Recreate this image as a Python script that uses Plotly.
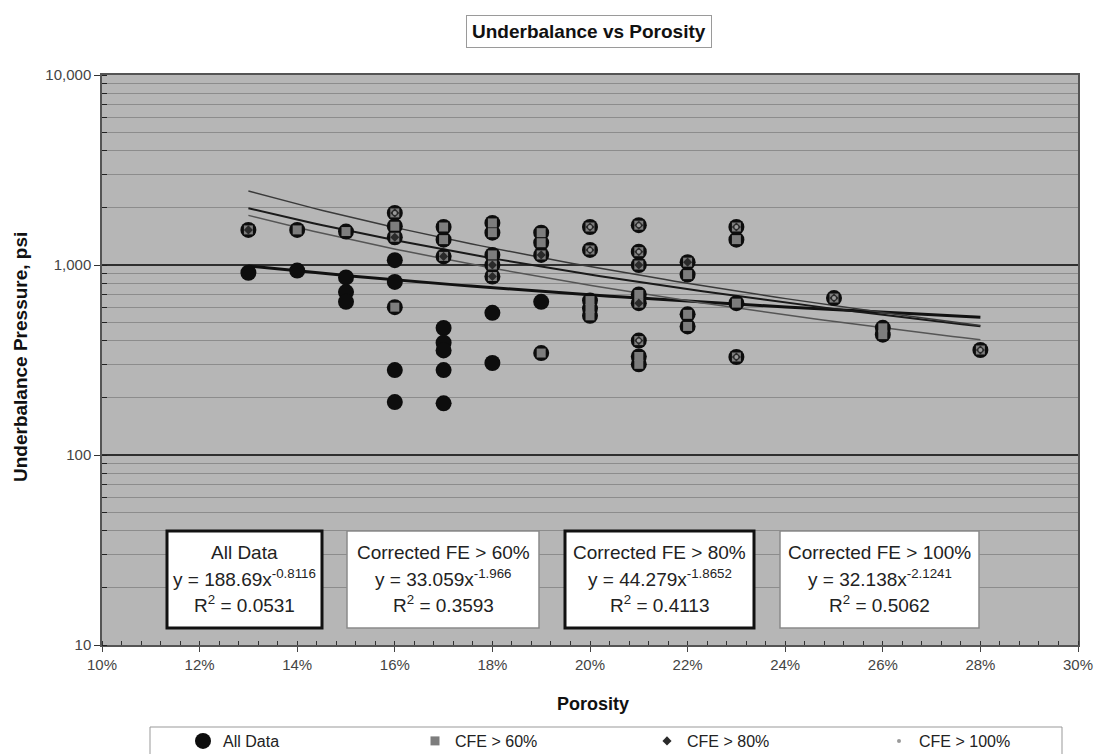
import numpy as np
import plotly.graph_objects as go

# ---------------- data (porosity as fraction, underbalance in psi) ----------------
all_x = [0.13, 0.13, 0.14, 0.14, 0.15, 0.15, 0.15, 0.15,
         0.16, 0.16, 0.16, 0.16, 0.16, 0.16, 0.16, 0.16,
         0.17, 0.17, 0.17, 0.17, 0.17, 0.17, 0.17, 0.17,
         0.18, 0.18, 0.18, 0.18, 0.18, 0.18, 0.18,
         0.19, 0.19, 0.19, 0.19, 0.19,
         0.20, 0.20, 0.20, 0.20, 0.20,
         0.21, 0.21, 0.21, 0.21, 0.21, 0.21, 0.21, 0.21,
         0.22, 0.22, 0.22, 0.22,
         0.23, 0.23, 0.23, 0.23,
         0.25, 0.26, 0.26, 0.28]
all_y = [910, 1530, 935, 1530, 1500, 860, 720, 640,
         1880, 1600, 1400, 1060, 815, 600, 280, 190,
         1585, 1360, 1110, 466, 390, 355, 280, 187,
         1665, 1480, 1130, 1000, 870, 560, 305,
         1480, 1310, 1130, 640, 344,
         1585, 1200, 650, 590, 540,
         1620, 1175, 1000, 700, 630, 400, 330, 300,
         1035, 890, 550, 475,
         1585, 1360, 630, 328,
         670, 467, 430, 357]

cfe60_x = [0.13, 0.14, 0.15, 0.16, 0.16, 0.16, 0.16,
           0.17, 0.17, 0.17, 0.18, 0.18, 0.18, 0.18, 0.18,
           0.19, 0.19, 0.19, 0.19,
           0.20, 0.20, 0.20, 0.20, 0.20,
           0.21, 0.21, 0.21, 0.21, 0.21, 0.21, 0.21, 0.21,
           0.22, 0.22, 0.22, 0.22,
           0.23, 0.23, 0.23, 0.23,
           0.25, 0.26, 0.26, 0.28]
cfe60_y = [1530, 1530, 1500, 1880, 1600, 1400, 600,
           1585, 1360, 1110, 1665, 1480, 1130, 1000, 870,
           1480, 1310, 1130, 344,
           1585, 1200, 650, 590, 540,
           1620, 1175, 1000, 700, 630, 400, 330, 300,
           1035, 890, 550, 475,
           1585, 1360, 630, 328,
           670, 467, 430, 357]

cfe80_x = [0.13, 0.16, 0.16, 0.17, 0.18, 0.18, 0.19, 0.20, 0.20,
           0.21, 0.21, 0.21, 0.21, 0.21, 0.22, 0.23, 0.23, 0.25, 0.28]
cfe80_y = [1530, 1880, 1400, 1110, 1000, 870, 1130, 1585, 1200,
           1620, 1175, 1000, 630, 400, 1035, 1585, 328, 670, 357]

cfe100_x = [0.16, 0.20, 0.20, 0.21, 0.21, 0.21, 0.23, 0.23, 0.25, 0.28]
cfe100_y = [1880, 1585, 1200, 1620, 1175, 400, 1585, 328, 670, 357]

# power-law trendlines shown on the chart: y = a * x^b
trend_names = ["All Data", "CFE > 60%", "CFE > 80%", "CFE > 100%"]
trend_a = [188.69, 33.059, 44.279, 32.138]
trend_b = [-0.8116, -1.966, -1.8652, -2.1241]
trend_range = [0.13, 0.28]

box_lines = [
    ["All Data", "y = 188.69x<sup>-0.8116</sup>", "R<sup>2</sup> = 0.0531"],
    ["Corrected FE > 60%", "y = 33.059x<sup>-1.966</sup>", "R<sup>2</sup> = 0.3593"],
    ["Corrected FE > 80%", "y = 44.279x<sup>-1.8652</sup>", "R<sup>2</sup> = 0.4113"],
    ["Corrected FE > 100%", "y = 32.138x<sup>-2.1241</sup>", "R<sup>2</sup> = 0.5062"],
]

x_ticks = [0.10, 0.12, 0.14, 0.16, 0.18, 0.20, 0.22, 0.24, 0.26, 0.28, 0.30]
y_ticks = [10, 100, 1000, 10000]

# ---------------- layout geometry (pixels) ----------------
FW, FH = 1099, 754
L, R, T, B = 102, 1078, 75, 645
PW, PH = R - L, B - T


def px(xp):
    return (xp - L) / PW


def py(yp):
    return (B - yp) / PH


FONT = "Liberation Sans, Arial, sans-serif"

fig = go.Figure()

# trendlines
line_styles = [
    dict(color="#111111", width=3),
    dict(color="#555555", width=1.5),
    dict(color="#1a1a1a", width=2),
    dict(color="#3a3a3a", width=1.5),
]
for name, a, b, st in zip(trend_names, trend_a, trend_b, line_styles):
    xs = np.linspace(trend_range[0], trend_range[1], 80)
    ys = a * xs ** b
    fig.add_trace(go.Scatter(x=xs, y=ys, mode="lines", line=st,
                             showlegend=False, hoverinfo="skip"))

# markers
fig.add_trace(go.Scatter(x=all_x, y=all_y, mode="markers", name="All Data",
                         marker=dict(symbol="circle", size=16, color="#0d0d0d",
                                     line=dict(width=0))))
fig.add_trace(go.Scatter(x=cfe60_x, y=cfe60_y, mode="markers", name="CFE > 60%",
                         marker=dict(symbol="square", size=9, color="#7d7d7d",
                                     line=dict(width=0))))
fig.add_trace(go.Scatter(x=cfe80_x, y=cfe80_y, mode="markers", name="CFE > 80%",
                         marker=dict(symbol="diamond", size=7, color="#2a2a2a",
                                     line=dict(width=0))))
fig.add_trace(go.Scatter(x=cfe100_x, y=cfe100_y, mode="markers", name="CFE > 100%",
                         marker=dict(symbol="circle", size=4, color="#9a9a9a",
                                     line=dict(width=0))))

shapes = []
annotations = []

# equation boxes
boxes = [(167, 322, True), (347, 539, False), (565, 754, True), (780, 979, False)]
for (x0, x1, thick), lines in zip(boxes, box_lines):
    shapes.append(dict(type="rect", xref="paper", yref="paper",
                       x0=px(x0), x1=px(x1), y0=py(628), y1=py(531),
                       fillcolor="white",
                       line=dict(color="#111111" if thick else "#8a8a8a",
                                 width=3 if thick else 1.5),
                       layer="above"))
    for ln, yp in zip(lines, [552, 578, 604]):
        annotations.append(dict(xref="paper", yref="paper", x=px((x0 + x1) / 2), y=py(yp),
                                text=ln, showarrow=False, xanchor="center", yanchor="middle",
                                font=dict(family=FONT, size=19, color="#222222")))

# title box
annotations.append(dict(xref="paper", yref="paper", x=px(589), y=py(32),
                        text="<b>Underbalance vs Porosity</b>", showarrow=False,
                        xanchor="center", yanchor="middle",
                        font=dict(family=FONT, size=19, color="#111111"),
                        bgcolor="white", bordercolor="#9a9a9a", borderwidth=1, borderpad=5))
# axis titles
annotations.append(dict(xref="paper", yref="paper", x=px(20), y=py(357),
                        text="<b>Underbalance Pressure, psi</b>", showarrow=False,
                        textangle=-90, xanchor="center", yanchor="middle",
                        font=dict(family=FONT, size=19, color="#111111")))
annotations.append(dict(xref="paper", yref="paper", x=px(593), y=py(704),
                        text="<b>Porosity</b>", showarrow=False,
                        xanchor="center", yanchor="middle",
                        font=dict(family=FONT, size=18, color="#111111")))

# legend frame
shapes.append(dict(type="rect", xref="paper", yref="paper",
                   x0=px(150), x1=px(1062), y0=py(770), y1=py(727),
                   fillcolor="white", line=dict(color="#999999", width=1), layer="below"))

fig.update_layout(
    width=FW, height=FH,
    margin=dict(l=L, r=FW - R, t=T, b=FH - B, autoexpand=False),
    paper_bgcolor="white",
    plot_bgcolor="#b6b6b6",
    font=dict(family=FONT, size=14, color="#333333"),
    showlegend=True,
    legend=dict(orientation="h", xref="paper", yref="paper",
                x=px(183), y=py(724), xanchor="left", yanchor="top",
                entrywidth=187, entrywidthmode="pixels",
                font=dict(family=FONT, size=16, color="#222222"),
                bgcolor="rgba(0,0,0,0)", borderwidth=0, itemsizing="trace"),
    shapes=shapes,
    annotations=annotations,
)

fig.update_xaxes(range=[0.10, 0.30], tickvals=x_ticks, tickformat=".0%",
                 ticks="outside", ticklen=5, tickcolor="#444444",
                 showgrid=False, zeroline=False,
                 showline=True, linecolor="#555555", linewidth=1.5, mirror=True,
                 tickfont=dict(family=FONT, size=15, color="#444444"),
                 minor=dict(dtick=0.004, tick0=0.10, ticks="inside", ticklen=4,
                            tickcolor="#333333", showgrid=False))

fig.update_yaxes(type="log", range=[1, 4], tickvals=y_ticks, tickformat=",d",
                 ticks="outside", ticklen=6, tickcolor="#333333",
                 showgrid=True, gridcolor="#2f2f2f", gridwidth=2,
                 zeroline=False,
                 showline=True, linecolor="#555555", linewidth=1.5, mirror=True,
                 tickfont=dict(family=FONT, size=15, color="#444444"),
                 minor=dict(dtick="D1", ticks="inside", ticklen=5, tickcolor="#222222",
                            showgrid=True, gridcolor="#8c8c8c", gridwidth=1))

fig.write_html("out.html")
